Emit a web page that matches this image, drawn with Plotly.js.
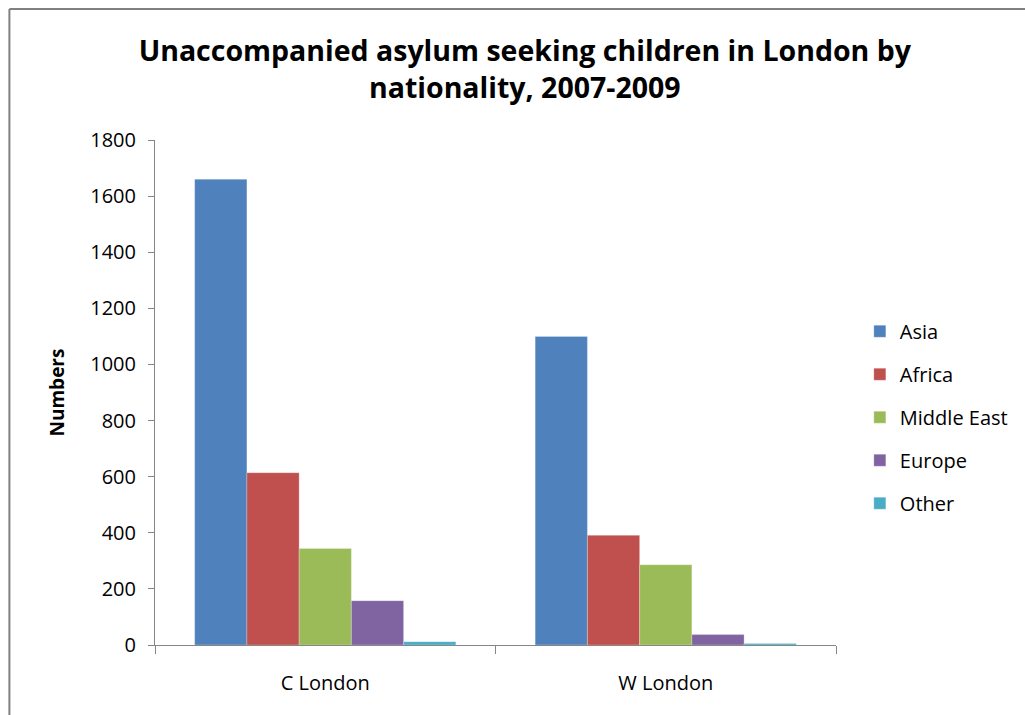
<!DOCTYPE html>
<html>
<head>
<meta charset="utf-8">
<script src="https://cdn.plot.ly/plotly-3.0.1.min.js"></script>
<style>
html,body{margin:0;padding:0;background:#fff;overflow:hidden;}
#chart{width:1025px;height:715px;}
</style>
</head>
<body>
<div id="chart"></div>
<script>
const categories = ["C London", "W London"];
const seriesNames = ["Asia", "Africa", "Middle East", "Europe", "Other"];
const asia = [1660, 1100];
const africa = [614, 391];
const middleEast = [344, 286];
const europe = [158, 37];
const other = [12, 5];
const colors = ["#4F81BD", "#C0504D", "#9BBB59", "#8064A2", "#4BACC6"];
const yTickVals = [0, 200, 400, 600, 800, 1000, 1200, 1400, 1600, 1800];

const values = [asia, africa, middleEast, europe, other];
const font = "Open Sans, Liberation Sans, sans-serif";

const traces = seriesNames.map((name, i) => ({
  type: "bar",
  name: name,
  x: categories,
  y: values[i],
  legendgroup: name,
  marker: {color: colors[i], line: {color: "rgba(255,255,255,0.5)", width: 0.5}},
  hoverinfo: "x+y+name"
}));

const layout = {
  width: 1025,
  height: 715,
  paper_bgcolor: "#ffffff",
  plot_bgcolor: "#ffffff",
  margin: {l: 155, r: 187, t: 140, b: 70},
  barmode: "group",
  bargap: 0.233,
  bargroupgap: 0,
  font: {family: font, color: "#000000"},
  title: {
    text: "<b>Unaccompanied asylum seeking children in London by<br>nationality, 2007-2009</b>",
    font: {family: font, size: 28.5, color: "#000000"},
    x: 0.512,
    xanchor: "center",
    y: 0.915,
    yanchor: "middle",
    yref: "container"
  },
  xaxis: {
    type: "category",
    showline: true,
    linecolor: "#868686",
    linewidth: 1,
    ticks: "outside",
    tickson: "boundaries",
    ticklen: 8,
    tickcolor: "#868686",
    tickfont: {family: font, size: 20, color: "#000000"},
    ticklabelstandoff: 20,
    showgrid: false,
    zeroline: false
  },
  yaxis: {
    range: [0, 1800],
    tickvals: yTickVals,
    showline: true,
    linecolor: "#868686",
    linewidth: 1,
    ticks: "outside",
    ticklen: 6,
    tickcolor: "#868686",
    tickfont: {family: font, size: 20, color: "#000000"},
    ticklabelstandoff: 8,
    showgrid: false,
    zeroline: false,
    title: {text: "<b>Numbers</b>", font: {family: font, size: 19, color: "#000000"}, standoff: 20}
  },
  legend: {
    x: 1.035,
    xanchor: "left",
    y: 0.451,
    yanchor: "middle",
    font: {family: font, size: 20, color: "#000000"},
    tracegroupgap: 14,
    traceorder: "grouped",
    bgcolor: "rgba(0,0,0,0)"
  },
  shapes: [
    {type: "line", xref: "paper", yref: "paper", x0: -0.2138, x1: 1.6, y0: 1.2594, y1: 1.2594, line: {color: "#808080", width: 2}},
    {type: "line", xref: "paper", yref: "paper", x0: -0.2138, x1: -0.2138, y0: 1.2594, y1: -0.3, line: {color: "#808080", width: 2}}
  ],
  showlegend: true
};

Plotly.newPlot("chart", traces, layout, {displayModeBar: false, staticPlot: true});
</script>
</body>
</html>
